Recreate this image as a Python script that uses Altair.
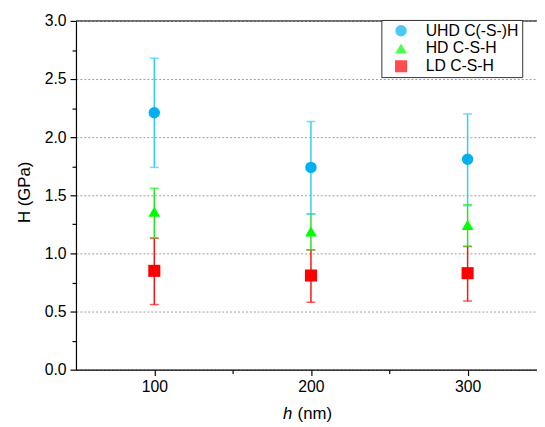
import altair as alt
import pandas as pd

# ---------------- data ----------------
x_vals = [100, 200, 300]
series_names = ["UHD C(-S-)H", "HD C-S-H", "LD C-S-H"]

uhd_mean = [2.21, 1.74, 1.81]
uhd_lo = [1.74, 1.34, 1.41]
uhd_hi = [2.68, 2.135, 2.20]

hd_mean = [1.36, 1.19, 1.245]
hd_lo = [1.135, 1.03, 1.06]
hd_hi = [1.56, 1.34, 1.42]

ld_mean = [0.85, 0.81, 0.83]
ld_lo = [0.56, 0.58, 0.59]
ld_hi = [1.13, 1.03, 1.06]

marker_colors = ["#00B0F0", "#00FF00", "#FF0000"]
bar_colors = ["#33CCFF", "#22E622", "#FF1010"]
marker_shapes = ["circle", "triangle-up", "square"]
marker_sizes = [135, 150, 110]

y_major = [0, 0.5, 1.0, 1.5, 2.0, 2.5, 3.0]
y_minor = [0.25, 0.75, 1.25, 1.75, 2.25, 2.75]
x_major = [100, 200, 300]
x_minor = [150, 250]
x_title_italic = ["h"]
x_title_rest = ["(nm)"]
y_title = ["H (GPa)"]

FONT = "Liberation Sans"
W, H = 468, 354

# ---------------- table (LD drawn first, UHD last) ----------------
rows = []
for name, m, lo, hi, bc in [
    (series_names[2], ld_mean, ld_lo, ld_hi, bar_colors[2]),
    (series_names[1], hd_mean, hd_lo, hd_hi, bar_colors[1]),
    (series_names[0], uhd_mean, uhd_lo, uhd_hi, bar_colors[0]),
]:
    for xv, mv, lv, hv in zip(x_vals, m, lo, hi):
        rows.append({"x": xv, "series": name, "mean": mv, "lo": lv, "hi": hv, "ecol": bc})
df = pd.DataFrame(rows)

xscale = alt.Scale(domain=[50, 344.3], nice=False, zero=False)
yscale = alt.Scale(domain=[0, 3], nice=False, zero=False)

base = alt.Chart(df)

# error bar stems carry the minor-tick axes
stems = base.mark_rule(strokeWidth=1.5).encode(
    x=alt.X("x:Q", scale=xscale,
            axis=alt.Axis(values=x_minor, labels=False, tickSize=4, domain=False,
                          grid=False, title=None, orient="bottom", tickColor="black")),
    y=alt.Y("lo:Q", scale=yscale,
            axis=alt.Axis(values=y_minor, labels=False, tickSize=4, domain=False,
                          grid=False, title=None, orient="left", tickColor="black")),
    y2="hi:Q",
    color=alt.Color("ecol:N", scale=None),
)

caps = base.transform_fold(["lo", "hi"], as_=["k", "v"]).mark_tick(
    orient="horizontal", size=9, thickness=1.5
).encode(
    x=alt.X("x:Q", scale=xscale, axis=None),
    y=alt.Y("v:Q", scale=yscale, axis=None),
    color=alt.Color("ecol:N", scale=None),
)

legend = alt.Legend(
    title=None, orient="none", legendX=310, legendY=-1,
    strokeColor="#333333", fillColor="white", padding=3,
    labelFont=FONT, labelFontSize=16, labelColor="black",
    symbolSize=64, symbolOffset=9, labelOffset=17, rowPadding=2,
    symbolStrokeWidth=0,
)

markers = base.mark_point(filled=True, opacity=1).encode(
    x=alt.X("x:Q", scale=xscale,
            axis=alt.Axis(values=x_major, tickSize=6, domain=True, grid=False,
                          title=None, orient="bottom", labelFontSize=16,
                          labelPadding=3, format="d")),
    y=alt.Y("mean:Q", scale=yscale,
            axis=alt.Axis(values=y_major, tickSize=6, domain=True, grid=True,
                          gridDash=[2, 2], gridColor="#9a9a9a", gridWidth=1,
                          title=None, orient="left", labelFontSize=16,
                          labelPadding=4, format=".1f")),
    color=alt.Color("series:N", scale=alt.Scale(domain=series_names, range=marker_colors),
                    legend=legend),
    shape=alt.Shape("series:N", scale=alt.Scale(domain=series_names, range=marker_shapes),
                    legend=legend),
    size=alt.Size("series:N", scale=alt.Scale(domain=series_names, range=marker_sizes),
                  legend=None),
)

top_line = alt.Chart(pd.DataFrame({"a": [0]})).mark_rule(color="black", strokeWidth=1).encode(
    x=alt.value(0), x2=alt.value(W), y=alt.value(0)
)

t_h = alt.Chart(pd.DataFrame({"t": x_title_italic})).mark_text(
    font=FONT, fontSize=17, fontStyle="italic", align="right", baseline="middle", color="black"
).encode(x=alt.value(219.5), y=alt.value(399), text="t:N", size=alt.value(17))

t_rest = alt.Chart(pd.DataFrame({"t": x_title_rest})).mark_text(
    font=FONT, fontSize=17, align="left", baseline="middle", color="black"
).encode(x=alt.value(225), y=alt.value(399), text="t:N", size=alt.value(17))

t_y = alt.Chart(pd.DataFrame({"t": y_title})).mark_text(
    font=FONT, fontSize=17, angle=270, align="center", baseline="middle", color="black"
).encode(x=alt.value(-52), y=alt.value(174), text="t:N", size=alt.value(17))

chart = alt.layer(stems, caps, markers, top_line, t_h, t_rest, t_y).resolve_axis(
    x="independent", y="independent"
).properties(
    width=W, height=H,
    autosize=alt.AutoSizeParams(type="none"),
    padding={"left": 69, "top": 10, "right": 0, "bottom": 50},
).configure_view(stroke=None).configure_axis(
    labelFont=FONT, titleFont=FONT, labelColor="black", titleColor="black",
    domainColor="black", tickColor="black", domainWidth=1.2, tickWidth=1.2,
).configure_legend(symbolOffset=9)

chart.save("out.html", embed_options={"renderer": "svg", "actions": False})
